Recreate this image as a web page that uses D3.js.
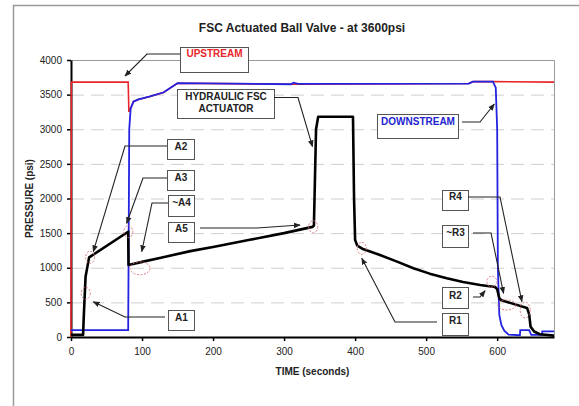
<!DOCTYPE html>
<html>
<head>
<meta charset="utf-8">
<script src="https://cdn.jsdelivr.net/npm/d3@7"></script>
<style>
  body { margin: 0; background: #fff; }
  svg { font-family: "Liberation Sans", Arial, sans-serif; }
</style>
</head>
<body>
<div id="chart"></div>
<script>
// pressure traces, [time (s), psi]
const upstream = [[0,0],[0.5,3680],[80.5,3680],[81.5,3250],[84,3300],[88,3400],[95,3430],[110,3470],[130,3530],[150,3665],[310,3650],[560,3660],[566,3688],[594,3688],[680,3680]];
const downstream = [[0,100],[80.5,100],[81,1000],[82,3000],[84,3300],[88,3400],[95,3430],[110,3470],[130,3530],[150,3665],[310,3650],[313,3672],[320,3655],[560,3660],[566,3688],[594,3688],[598,3600],[600,3000],[601,1000],[603,320],[606,170],[610,90],[616,35],[632,25],[632.5,100],[645,100],[648,30],[663,30],[663.5,80],[680,80]];
const actuator = [[0,30],[17,30],[18,300],[20.5,870],[25.5,1150],[80.5,1520],[81,1040],[100,1085],[125,1140],[168,1240],[200,1300],[250,1400],[300,1500],[340,1590],[342,1610],[345,3000],[348,3180],[397,3180],[398.5,2000],[400,1400],[403,1320],[410,1275],[435,1184],[460,1085],[482,992],[505,915],[529,848],[552,795],[576,751],[597,722],[600,690],[603,560],[606,530],[642,420],[645,330],[647,150],[652,80],[660,40],[680,20]];

const xTicks = [0,100,200,300,400,500,600];
const yTicks = [0,500,1000,1500,2000,2500,3000,3500,4000];

// callout labels, the point they mark [time, psi]
const calloutNames = ["UPSTREAM","HYDRAULIC FSC|ACTUATOR","DOWNSTREAM","A2","A3","~A4","A5","A1","R4","~R3","R2","R1"];
const calloutTargets = [[76,3769],[340,2748],[596,3365],[31.4,1232],[78.4,1642],[99.6,1232],[322.5,1617],[31.4,510],[634.8,510],[609,631],[583,669],[409.4,1137]];
// dashed rings [time, psi]
const ringNames = ["A1","A2","A3","~A4","A5","R1","R2","~R3","R4"];
const ringPoints = [[20.7,631],[26.8,1151],[80.7,1521],[97.2,992],[341,1593],[409.4,1281],[592.5,799],[613.7,462],[639.4,390]];

const w = 579, h = 406;
const pLeft = 71, pRight = 554, pTop = 60, pBottom = 337;

const svg = d3.select('#chart').append('svg').attr('width', w).attr('height', h);

svg.append('defs').append('marker')
   .attr('id', 'arr').attr('viewBox', '0 0 10 10').attr('refX', 9).attr('refY', 5)
   .attr('markerWidth', 7).attr('markerHeight', 7).attr('orient', 'auto-start-reverse')
   .attr('markerUnits', 'userSpaceOnUse')
   .append('path').attr('d', 'M0,1 L10,5 L0,9 z').attr('fill', '#222');

// outer frame
svg.append('path').attr('d', 'M13.5,420 V5.5 H600').attr('fill', 'none').attr('stroke', '#9a9a9a').attr('stroke-width', 1.5);

const x = d3.scaleLinear().domain([0, 680]).range([pLeft, pRight]);
const y = d3.scaleLinear().domain([0, 4000]).range([pBottom, pTop]);

// grid
svg.append('g').selectAll('line').data(yTicks.filter(d => d > 0 && d < 4000)).enter().append('line')
   .attr('x1', pLeft).attr('x2', pRight).attr('y1', d => y(d) + 0.5).attr('y2', d => y(d) + 0.5)
   .attr('stroke', '#cfcfcf').attr('stroke-width', 1).attr('stroke-dasharray', '13,7');

// plot box top/right
svg.append('path').attr('d', `M${pLeft},${pTop + 0.5} H${pRight + 0.5} V${pBottom}`)
   .attr('fill', 'none').attr('stroke', '#9a9a9a').attr('stroke-width', 1);

const xAxis = svg.append('g').attr('transform', `translate(0,${pBottom})`)
   .call(d3.axisBottom(x).tickValues(xTicks).tickFormat(d3.format('d')).tickSize(4).tickSizeOuter(0));
const yAxis = svg.append('g').attr('transform', `translate(${pLeft},0)`)
   .call(d3.axisLeft(y).tickValues(yTicks).tickFormat(d3.format('d')).tickSize(4).tickSizeOuter(0));
[xAxis, yAxis].forEach(a => {
  a.select('.domain').attr('stroke', '#000').attr('stroke-width', 2);
  a.selectAll('.tick line').attr('stroke', '#000').attr('stroke-width', 1.5);
  a.selectAll('.tick text').attr('font-size', 10).attr('fill', '#222').attr('font-family', '"Liberation Sans", Arial, sans-serif');
});
xAxis.selectAll('.tick text').attr('dy', '1.1em');
yAxis.selectAll('.tick text').attr('dx', '-0.2em');

// axis titles
svg.append('text').attr('x', (pLeft + pRight) / 2).attr('y', 375).attr('text-anchor', 'middle')
   .attr('font-size', 10).attr('font-weight', 'bold').attr('fill', '#222').text('TIME (seconds)');
svg.append('text').attr('text-anchor', 'middle')
   .attr('transform', `translate(33,${(pTop + pBottom) / 2}) rotate(-90)`)
   .attr('font-size', 10).attr('font-weight', 'bold').attr('fill', '#222').text('PRESSURE (psi)');

// title
svg.append('text').attr('x', 302).attr('y', 32).attr('text-anchor', 'middle')
   .attr('font-size', 12).attr('font-weight', 'bold').attr('fill', '#222').text('FSC Actuated Ball Valve - at 3600psi');

// traces
const line = d3.line().x(d => x(d[0])).y(d => y(d[1]));
svg.append('path').datum(upstream).attr('d', line).attr('fill', 'none').attr('stroke', '#e8262a').attr('stroke-width', 1.6);
svg.append('path').datum(downstream).attr('d', line).attr('fill', 'none').attr('stroke', '#2323e0').attr('stroke-width', 1.8);
svg.append('path').datum(actuator).attr('d', line).attr('fill', 'none').attr('stroke', '#000').attr('stroke-width', 2.6)
   .attr('stroke-linejoin', 'round');

// rings
const ringSize = {"~A4": [10, 6.5], "~R3": [9, 5], "R4": [5, 8], "R2": [5, 5.5]};
svg.append('g').selectAll('ellipse').data(ringPoints).enter().append('ellipse')
   .attr('cx', d => x(d[0])).attr('cy', d => y(d[1]))
   .attr('rx', (d, i) => (ringSize[ringNames[i]] || [4.5, 6])[0])
   .attr('ry', (d, i) => (ringSize[ringNames[i]] || [4.5, 6])[1])
   .attr('fill', 'none').attr('stroke', '#d9727a').attr('stroke-width', 0.9).attr('stroke-dasharray', '2,1.5');

// callout boxes: box x, y, w, h, leader start, elbow
const boxes = [
  {b: [180, 47, 68, 25], s: [180, 54], e: [147, 54], c: '#e8262a', ty: [57]},
  {b: [177, 89, 97, 29], s: [274, 97.5], e: [298, 97.5], c: '#222', ty: [100, 112]},
  {b: [377, 114, 81, 24], s: [462, 122], e: [480, 122], c: '#2323d0', ty: [125]},
  {b: [167, 139, 27, 20], s: [167, 146], e: [125, 146], c: '#222', ty: [150]},
  {b: [167, 170, 27, 20], s: [167, 178], e: [143, 178], c: '#222', ty: [181]},
  {b: [168, 195, 26, 21], s: [168, 203], e: [152, 203], c: '#222', ty: [206]},
  {b: [168, 222, 26, 20], s: [200, 228], e: [257, 228], c: '#222', ty: [232]},
  {b: [168, 310, 26, 20], s: [165, 317], e: [125, 317], c: '#222', ty: [321]},
  {b: [442, 190, 26, 20], s: [468, 197], e: [500, 197], c: '#222', ty: [200]},
  {b: [442, 225, 26, 22], s: [473, 233], e: [491, 233], c: '#222', ty: [236]},
  {b: [442, 287, 26, 21], s: [473, 297], e: [480, 297], c: '#222', ty: [299]},
  {b: [442, 313, 26, 22], s: [437, 322], e: [395, 322], c: '#222', ty: [324]}
];

boxes.forEach((o, i) => {
  const g = svg.append('g');
  const t = calloutTargets[i];
  g.append('rect').attr('x', o.b[0] + 0.5).attr('y', o.b[1] + 0.5).attr('width', o.b[2]).attr('height', o.b[3])
   .attr('fill', '#fff').attr('stroke', '#555').attr('stroke-width', 1);
  const lines = calloutNames[i].split('|');
  lines.forEach((s, k) => {
    g.append('text').attr('x', o.b[0] + o.b[2] / 2 + 0.5).attr('y', o.ty[k]).attr('text-anchor', 'middle')
     .attr('font-size', 10).attr('font-weight', 'bold').attr('fill', o.c).text(s);
  });
  g.append('path').attr('d', `M${o.s[0]},${o.s[1]} L${o.e[0]},${o.e[1]} L${x(t[0])},${y(t[1])}`)
   .attr('fill', 'none').attr('stroke', '#222').attr('stroke-width', 1.1).attr('marker-end', 'url(#arr)');
});
</script>
</body>
</html>
